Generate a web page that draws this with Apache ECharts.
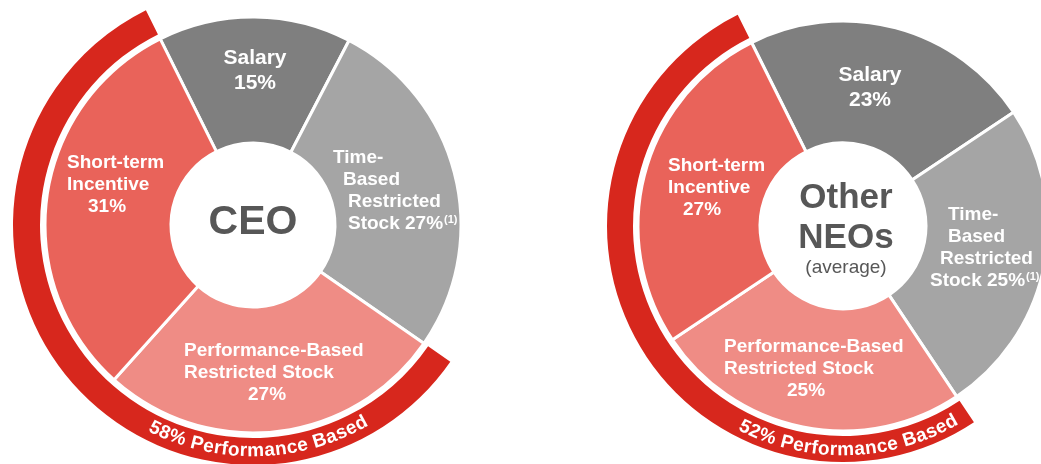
<!DOCTYPE html>
<html>
<head>
<meta charset="utf-8">
<script src="https://cdn.jsdelivr.net/npm/echarts@6/dist/echarts.min.js"></script>
<style>
  html, body { margin: 0; padding: 0; background: #fff; }
  #chart { width: 1041px; height: 464px; }
</style>
</head>
<body>
<div id="chart"></div>
<script>
// ---- data ----
const categories = ['Salary', 'Time-Based Restricted Stock', 'Performance-Based Restricted Stock', 'Short-term Incentive'];
const ceoValues = [15, 27, 27, 31];
const neoValues = [23, 25, 25, 27];
const performanceShare = [58, 52];          // short-term + performance-based
const performanceLabel = '% Performance Based';
const footnote = '(1)';

// how each category name is broken into lines inside its slice
const labelLines = [
  ['Salary'],
  ['Time-', 'Based', 'Restricted', 'Stock'],
  ['Performance-Based', 'Restricted Stock'],
  ['Short-term', 'Incentive']
];

// ---- look ----
const FONT = '"Liberation Sans", Arial, Helvetica, sans-serif';
const sliceColors = ['#7f7f7f', '#a5a5a5', '#ef8c85', '#e9635a'];
const bandColor = '#d7271d';
const titleColor = '#575757';

// per chart layout: pie geometry + where each slice label sits (top-left / top-center)
const charts = [
  {
    values: ceoValues,
    center: [253, 225], radius: [82, 208], band: [213, 240], textR: 226,
    labels: [
      { x: 255, y: 46, align: 'center', pad: [0, 0] },
      { x: 333, y: 147, align: 'left', pad: [0, 10, 15, 15] },
      { x: 184, y: 340, align: 'left', pad: [0, 0, 64] },
      { x: 67, y: 152, align: 'left', pad: [0, 0, 21] }
    ]
  },
  {
    values: neoValues,
    center: [843, 226], radius: [83, 205], band: [210, 236], textR: 224,
    labels: [
      { x: 870, y: 63, align: 'center', pad: [0, 0] },
      { x: 930, y: 204, align: 'left', pad: [18, 18, 10, 0] },
      { x: 724, y: 336, align: 'left', pad: [0, 0, 63] },
      { x: 668, y: 155, align: 'left', pad: [0, 0, 15] }
    ]
  }
];
const START = 116.5;

function buildRich(layout) {
  const rich = {
    sup: { fontFamily: FONT, fontWeight: 'bold', fontSize: 11, color: '#fff', lineHeight: 12, verticalAlign: 'top', padding: [1, 0, 0, 1] }
  };
  layout.labels.forEach((l, i) => {
    l.pad.forEach((p, j) => {
      rich['s' + i + '_' + j] = {
        fontFamily: FONT, fontWeight: 'bold', color: '#fff',
        fontSize: i === 0 ? 21 : 19,
        lineHeight: i === 0 ? 25 : 22,
        padding: [0, 0, 0, p]
      };
    });
  });
  return rich;
}

function labelText(i, value) {
  const lines = labelLines[i].map((t, j) => '{s' + i + '_' + j + '|' + t + '}');
  if (i === 1) {
    const last = lines.length - 1;
    lines[last] = '{s1_' + last + '|' + labelLines[1][last] + ' ' + value + '%}{sup|' + footnote + '}';
  } else {
    lines.push('{s' + i + '_' + labelLines[i].length + '|' + value + '%}');
  }
  return lines.join('\n');
}

// text bent along the red band
const measureCtx = document.createElement('canvas').getContext('2d');
function arcText(text, cx, cy, r, centerDeg, font, spacing) {
  measureCtx.font = font;
  const widths = Array.from(text).map(ch => measureCtx.measureText(ch).width + spacing);
  const total = widths.reduce((a, b) => a + b, 0);
  let acc = centerDeg * Math.PI / 180 * r - total / 2;
  return Array.from(text).map((ch, k) => {
    const th = (acc + widths[k] / 2) / r;
    acc += widths[k];
    return {
      type: 'text', silent: true, z: 10,
      x: cx + r * Math.sin(th), y: cy + r * Math.cos(th),
      rotation: th,
      style: { text: ch, font: font, fill: '#fff', align: 'center', verticalAlign: 'middle', textAlign: 'center', textVerticalAlign: 'middle' }
    };
  });
}

const series = [];
const graphic = [];
charts.forEach((c, ci) => {
  series.push({
    type: 'pie',
    center: c.center,
    radius: c.radius,
    startAngle: START,
    silent: true,
    avoidLabelOverlap: false,
    itemStyle: { borderColor: '#fff', borderWidth: 3 },
    label: {
      show: true, position: 'inside',
      formatter: p => labelText(p.dataIndex, p.value),
      rich: buildRich(c)
    },
    labelLine: { show: false },
    labelLayout: p => {
      const l = c.labels[p.dataIndex];
      return { x: l.x, y: l.y, align: l.align, verticalAlign: 'top' };
    },
    data: c.values.map((v, i) => ({ name: categories[i], value: v, itemStyle: { color: sliceColors[i] } }))
  });
  series.push({
    type: 'pie',
    center: c.center,
    radius: c.band,
    startAngle: START,
    silent: true,
    label: { show: false },
    labelLine: { show: false },
    data: [
      { name: 'other', value: 100 - performanceShare[ci], itemStyle: { color: 'transparent' } },
      { name: 'performance', value: performanceShare[ci], itemStyle: { color: bandColor } }
    ]
  });
  graphic.push(...arcText(performanceShare[ci] + performanceLabel, c.center[0], c.center[1], c.textR, 1.5,
    'bold 19px ' + FONT, 0.2));
});

graphic.push(
  { type: 'text', x: 253, y: 223, style: { text: 'CEO', font: 'bold 41px ' + FONT, fill: titleColor, align: 'center', verticalAlign: 'middle', textAlign: 'center', textVerticalAlign: 'middle' } },
  { type: 'text', x: 846, y: 198, style: { text: 'Other', font: 'bold 35px ' + FONT, fill: titleColor, align: 'center', verticalAlign: 'middle', textAlign: 'center', textVerticalAlign: 'middle' } },
  { type: 'text', x: 846, y: 238, style: { text: 'NEOs', font: 'bold 35px ' + FONT, fill: titleColor, align: 'center', verticalAlign: 'middle', textAlign: 'center', textVerticalAlign: 'middle' } },
  { type: 'text', x: 846, y: 268, style: { text: '(average)', font: '19px ' + FONT, fill: titleColor, align: 'center', verticalAlign: 'middle', textAlign: 'center', textVerticalAlign: 'middle' } }
);

const chart = echarts.init(document.getElementById('chart'));
chart.setOption({
  animation: false,
  backgroundColor: '#fff',
  series: series,
  graphic: graphic
});
</script>
</body>
</html>
